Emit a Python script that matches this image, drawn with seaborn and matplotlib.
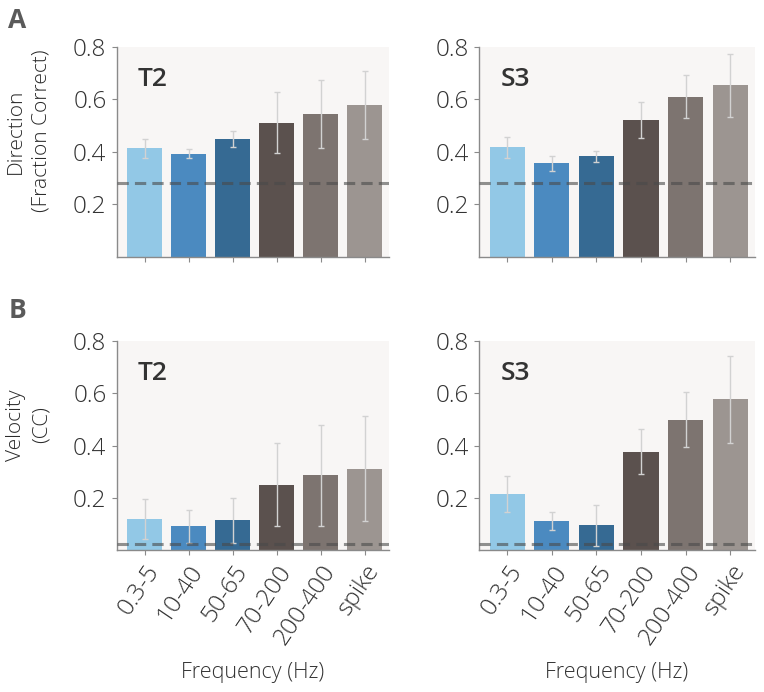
import numpy as np
import pandas as pd
import matplotlib
matplotlib.use("Agg")
import matplotlib.pyplot as plt
import seaborn as sns

# ---- data ----
bands = ["0.3-5", "10-40", "50-65", "70-200", "200-400", "spike"]
colors = ["#92c8e6", "#4b8ac0", "#366a93", "#5b514e", "#7d7470", "#9c9591"]

dir_T2 = [0.414, 0.392, 0.448, 0.512, 0.544, 0.578]
dir_T2_lo = [0.378, 0.378, 0.420, 0.397, 0.414, 0.448]
dir_T2_hi = [0.450, 0.410, 0.480, 0.629, 0.674, 0.710]

dir_S3 = [0.417, 0.357, 0.383, 0.522, 0.611, 0.654]
dir_S3_lo = [0.376, 0.329, 0.360, 0.454, 0.530, 0.535]
dir_S3_hi = [0.456, 0.386, 0.405, 0.591, 0.692, 0.773]

vel_T2 = [0.120, 0.091, 0.115, 0.250, 0.288, 0.312]
vel_T2_lo = [0.044, 0.028, 0.028, 0.091, 0.094, 0.113]
vel_T2_hi = [0.195, 0.153, 0.201, 0.410, 0.478, 0.514]

vel_S3 = [0.214, 0.113, 0.095, 0.377, 0.500, 0.577]
vel_S3_lo = [0.145, 0.077, 0.015, 0.291, 0.395, 0.410]
vel_S3_hi = [0.282, 0.145, 0.174, 0.462, 0.605, 0.745]

chance_dir = 0.282
chance_vel = 0.022

yticks = [0.2, 0.4, 0.6, 0.8]
ytick_labels = ["0.2", "0.4", "0.6", "0.8"]

sns.set_theme(style="white")
plt.rcParams["font.family"] = ["Open Sans", "DejaVu Sans"]

fig = plt.figure(figsize=(7.64, 6.92), dpi=100)

pos = {
    (0, 0): [0.153, 0.629, 0.356, 0.303],
    (0, 1): [0.627, 0.629, 0.361, 0.303],
    (1, 0): [0.153, 0.205, 0.356, 0.302],
    (1, 1): [0.627, 0.205, 0.361, 0.302],
}

panels = [
    ((0, 0), dir_T2, dir_T2_lo, dir_T2_hi, chance_dir, "T2"),
    ((0, 1), dir_S3, dir_S3_lo, dir_S3_hi, chance_dir, "S3"),
    ((1, 0), vel_T2, vel_T2_lo, vel_T2_hi, chance_vel, "T2"),
    ((1, 1), vel_S3, vel_S3_lo, vel_S3_hi, chance_vel, "S3"),
]

txt_col = "#333333"
spine_col = "#8a8a8a"

for key, vals, lo, hi, chance, name in panels:
    ax = fig.add_axes(pos[key])
    ax.set_facecolor("#f8f6f5")
    df = pd.DataFrame({"band": bands, "value": vals})
    sns.barplot(data=df, x="band", y="value", hue="band", palette=colors,
                legend=False, width=0.79, ax=ax, saturation=1, linewidth=0,
                errorbar=None)
    x = np.arange(len(bands))
    v = np.array(vals)
    yerr = np.vstack([v - np.array(lo), np.array(hi) - v])
    ax.errorbar(x, v, yerr=yerr, fmt="none", ecolor="#d2d2d2",
                elinewidth=1.0, capsize=2.5, capthick=1.0, zorder=4)
    ax.axhline(chance, color="#4a4a4a", alpha=0.6, lw=2.2,
               dashes=(3.7, 2.0), zorder=5)
    ax.set_ylim(0, 0.8)
    ax.set_xlim(-0.63, 5.55)
    ax.set_yticks(yticks)
    ax.set_yticklabels(ytick_labels)
    for s in ["top", "right"]:
        ax.spines[s].set_visible(False)
    for s in ["left", "bottom"]:
        ax.spines[s].set_color(spine_col)
        ax.spines[s].set_linewidth(1.0)
    ax.tick_params(axis="both", which="both", direction="out", length=3.5,
                   width=0.8, color=spine_col, labelcolor=txt_col,
                   labelsize=17.5, pad=4, left=True, bottom=True)
    ax.set_xlabel("")
    ax.set_ylabel("")
    for lab in ax.get_yticklabels():
        lab.set_fontweight("light")
    ax.text(0.077, 0.905, name, transform=ax.transAxes, fontsize=19,
            fontweight="semibold", color="#333333", va="top", ha="left")
    if key[0] == 0:
        ax.set_xticklabels([])
    else:
        ax.set_xticks(x)
        ax.set_xticklabels(bands, rotation=56, ha="right",
                           rotation_mode="anchor", fontsize=17.5,
                           fontweight="light", color=txt_col)
        ax.set_xlabel("Frequency (Hz)", fontsize=15.5, color=txt_col,
                      labelpad=9, fontweight="light")
    if key == (0, 0):
        ax.set_ylabel("Direction\n(Fraction Correct)", fontsize=15,
                      color="#2a2a2a", linespacing=1.4, fontweight="light")
        ax.yaxis.set_label_coords(-0.24, 0.6)
    if key == (1, 0):
        ax.set_ylabel("Velocity\n(CC)", fontsize=15,
                      color="#2a2a2a", linespacing=1.4, fontweight="light")
        ax.yaxis.set_label_coords(-0.24, 0.6)

fig.text(0.011, 0.99, "A", fontsize=19, fontweight="bold", color="#5a5a5a",
         va="top", ha="left")
fig.text(0.011, 0.571, "B", fontsize=19, fontweight="bold", color="#5a5a5a",
         va="top", ha="left")

fig.savefig("out.png", dpi=100)
